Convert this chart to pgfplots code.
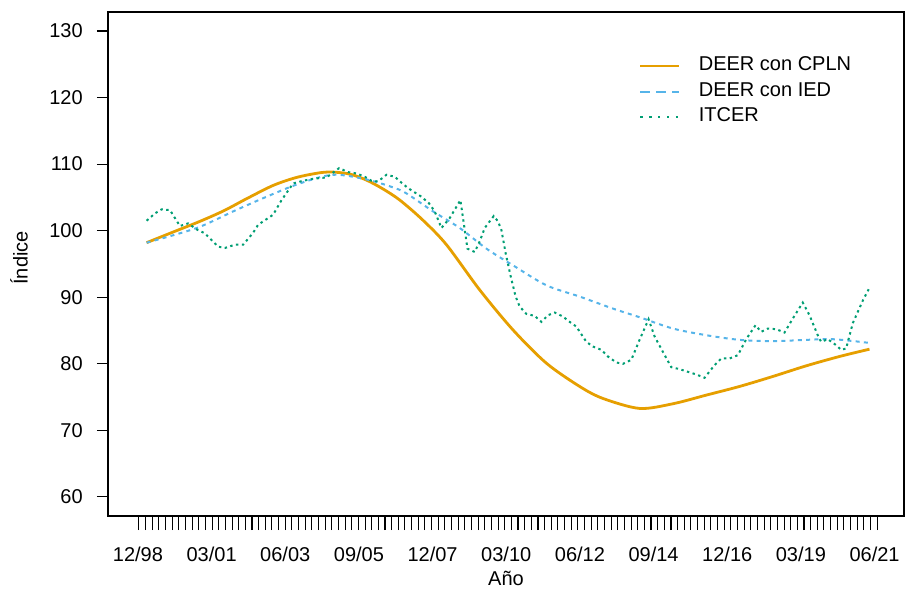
\documentclass[border=0pt]{standalone}
\usepackage{fontspec}
\setmainfont{Liberation Sans}
\usepackage{pgfplots}
\pgfplotsset{compat=1.18}
\definecolor{cOr}{HTML}{E69F00}
\definecolor{cBl}{HTML}{56B4E9}
\definecolor{cGr}{HTML}{009E73}
\begin{document}
\begin{tikzpicture}
\path[use as bounding box] (-81pt,-54.75pt) rectangle (597.75pt,387pt);
\begin{axis}[
  at={(0pt,0pt)}, anchor=south west,
  scale only axis, width=597pt, height=378pt,
  xmin=-3.66, xmax=93.6, ymin=57.14, ymax=132.85,
  axis line style={line width=0.9pt},
  every tick/.style={black, line width=0.8pt},
  tick align=outside,
  major tick length=8.25pt,
  minor tick length=10.5pt,
  ytick={60,70,...,130},
  xtick={0,9,...,90},
  xticklabels={12/98,03/01,06/03,09/05,12/07,03/10,06/12,09/14,12/16,03/19,06/21},
  major x tick style={draw=none},
  minor xtick={0.12,0.9326,...,90.33},
  xtick pos=bottom, ytick pos=left,
  /pgf/number format/assume math mode=true,
  tick label style={font=\fontsize{15}{18}\selectfont},
  yticklabel style={inner sep=0pt, anchor=east},
  xticklabel style={inner sep=0pt, anchor=north},
  xticklabel shift=14.75pt,
  yticklabel shift=10.5pt,
  label style={font=\fontsize{15}{18}\selectfont},
  xlabel={Año},
  ylabel={Índice},
  xlabel style={at={(axis description cs:0.5,-0.123)}, anchor=center},
  ylabel style={at={(axis description cs:-0.1118,0.512)}, anchor=center, rotate=0},
  legend image code/.code={\draw[#1] (0pt,0pt) -- (29.25pt,0pt);},
  legend cell align=left,
  legend style={at={(axis description cs:0.667,0.9127)}, anchor=north west,
    draw=none, fill=none, inner sep=0pt, column sep=14pt, row sep=4.1pt,
    font=\fontsize{15}{18}\selectfont,
    nodes={inner sep=0pt, text height=11pt, text depth=4pt}},
]
\addlegendimage{cOr, line width=1.5pt}
\addlegendentry{DEER con CPLN}
\addlegendimage{cBl, line width=1.5pt, dash pattern=on 7.5pt off 4.5pt}
\addlegendentry{DEER con IED}
\addlegendimage{cGr, line width=1.5pt, dash pattern=on 1.8pt off 4.9pt}
\addlegendentry{ITCER}

% DEER con CPLN
\addplot[cOr, line width=2.1pt, smooth, forget plot] coordinates {
(1.06,98.2) (4.3,99.8) (7.57,101.4) (10.5,103.0) (13.27,104.8) (16.52,106.8) (19.38,108.0)
(22.22,108.7) (23.85,108.8) (25.9,108.5) (27.92,107.6) (29.9,106.3) (31.99,104.6)
(34.8,101.6) (37.69,97.9) (41.76,91.1) (45.82,85.1) (49.90,80.1)
(53.97,76.6) (56.81,74.8) (61.29,73.3) (65.36,74.0) (69.44,75.3)
(73.50,76.6) (77.57,78.1) (81.65,79.7) (85.71,81.1) (89.38,82.2)
};
% DEER con IED
\addplot[cBl, line width=1.5pt, dash pattern=on 3pt off 3.2pt, smooth, forget plot] coordinates {
(1.06,98.2) (7.17,100.4) (11.64,102.9) (15.71,105.1) (19.78,107.1)
(23.85,108.4) (27.92,107.7) (31.17,106.5) (32.81,105.6) (36.06,102.9)
(39.32,100.4) (42.58,97.3) (45.82,94.8) (49.90,91.8) (53.97,90.1)
(58.03,88.3) (61.29,87.0) (65.36,85.3) (69.44,84.3) (73.50,83.6)
(77.57,83.4) (81.65,83.6) (84.90,83.7) (88.97,83.2) (89.38,83.1)
};
% ITCER
\addplot[cGr, line width=1.5pt, dash pattern=on 1.8pt off 2.6pt, forget plot] coordinates {
(1.06,101.5) (2.08,102.6) (2.89,103.2) (3.91,103.1) (5.13,100.7)
(6.14,101.1) (7.17,100.2) (8.18,99.6) (9.80,97.6) (10.62,97.4)
(11.84,97.9) (12.86,97.9) (14.08,99.7) (14.69,100.9) (16.52,102.4)
(17.55,104.6) (18.96,107.1) (20.18,107.5) (21.40,107.8) (23.04,108.0)
(24.58,109.4) (25.68,108.8) (26.70,108.6) (27.72,108.1) (28.53,107.5)
(29.34,107.4) (30.37,108.4) (31.38,108.1) (32.20,107.2) (33.00,106.4)
(34.64,105.1) (35.57,104.1) (36.26,102.9) (37.08,100.4) (38.10,101.9)
(39.40,104.6) (40.26,97.3) (41.15,96.8) (41.76,98.4) (42.37,100.4)
(43.47,102.2) (43.99,101.4) (44.41,100.1) (44.93,96.6) (45.51,93.3)
(46.15,90.1) (46.64,88.6) (47.46,87.5) (48.47,87.2) (49.29,86.3)
(50.10,87.3) (50.92,87.7) (51.93,87.1) (52.75,86.3) (53.56,85.6)
(54.79,83.3) (55.59,82.6) (56.62,82.1) (57.42,81.1) (58.45,80.2)
(59.26,80.0) (60.28,80.6) (61.29,83.6) (62.39,86.7) (63.13,84.1)
(64.14,81.8) (65.16,79.5) (66.18,79.2) (67.19,78.8) (68.22,78.4)
(69.23,77.9) (70.45,79.8) (71.27,80.8) (72.28,80.8) (73.30,81.3)
(74.32,83.7) (75.46,85.8) (76.15,84.8) (76.96,85.3) (77.99,85.2)
(79.00,84.7) (80.01,86.8) (81.23,89.2) (82.05,87.3) (83.06,84.3)
(83.48,83.3) (84.29,83.7) (85.31,82.8) (85.92,82.1) (86.53,82.3)
(87.34,86.1) (88.64,89.7) (89.29,91.2)
};
\end{axis}
\end{tikzpicture}
\end{document}
